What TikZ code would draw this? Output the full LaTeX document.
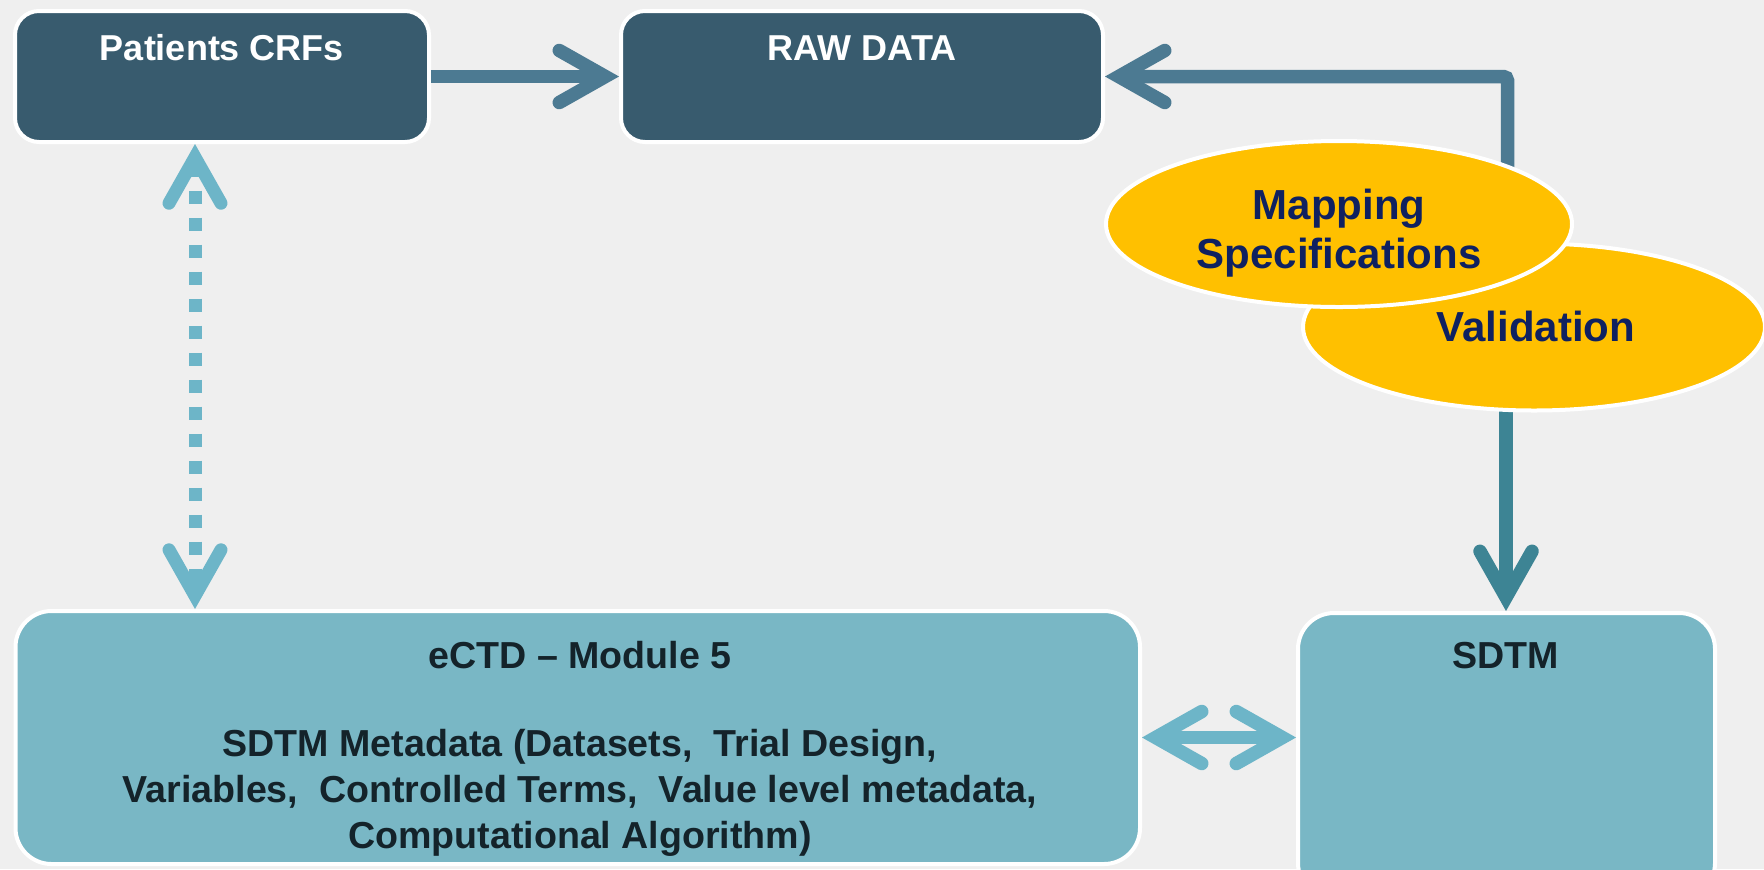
\documentclass[tikz,border=0pt]{standalone}
\usepackage{fontspec}
\setmainfont{Liberation Sans}
\usetikzlibrary{arrows.meta,shapes.geometric}

\definecolor{bgcol}{HTML}{EFEFEF}
\definecolor{darkbox}{HTML}{385B6E}
\definecolor{lightbox}{HTML}{79B7C5}
\definecolor{steel}{HTML}{4C7A92}
\definecolor{tealline}{HTML}{3D8494}
\definecolor{skyline}{HTML}{6DB5C8}
\definecolor{gold}{HTML}{FFC000}
\definecolor{navytext}{HTML}{0F2160}
\definecolor{darktext}{HTML}{14232A}

\begin{document}
\begin{tikzpicture}[x=0.5pt,y=-0.5pt,
  topbox/.style={draw=white, line width=2pt, fill=darkbox, rounded corners=12pt,
    minimum width=207pt, minimum height=65.5pt, inner sep=0pt},
  botbox/.style={draw=white, line width=2pt, fill=lightbox, rounded corners=18pt,
    inner sep=0pt},
  toptext/.style={text=white, font=\fontsize{18}{21.6}\selectfont\bfseries, inner sep=0pt},
  bottext/.style={text=darktext, font=\fontsize{18.8}{23}\selectfont\bfseries,
    align=center, inner sep=0pt},
  oval/.style={ellipse, draw=white, line width=2pt, fill=gold, inner sep=0pt},
  ovaltext/.style={text=navytext, align=center, inner sep=0pt,
    font=\fontsize{21}{24.5}\selectfont\bfseries},
  barb/.tip={Straight Barb[length=23pt, width=26pt, line width=0pt 1,
    line cap=round, line join=miter]},
  steelarrow/.style={draw=steel, line width=6.75pt, -barb},
  tealarrow/.style={draw=tealline, line width=6.75pt, -barb},
  twoway/.style={draw=skyline, line width=6.75pt, barb-barb},
  dotarrow/.style={draw=skyline, line width=6.5pt, dash pattern=on 6.5pt off 7pt,
    barb-barb}
]
\useasboundingbox[fill=bgcol] (0,0) rectangle (1764,869);
\clip (0,0) rectangle (1764,869);

% boxes
\node[topbox] (crf) at (222,76.5) {};
\node[toptext, anchor=base] (crft) at (222,60) {Patients CRFs};
\node[topbox, minimum width=241pt] (raw) at (862,76.5) {};
\node[toptext, anchor=base] (rawt) at (862,60) {RAW DATA};

\node[botbox, minimum width=562.25pt, minimum height=126.5pt] (ectd) at (577.75,737.5) {};
\node[bottext, anchor=north] (ectdt) at (580,641)
  {eCTD – Module 5\\[21pt]SDTM Metadata (Datasets,\ \ Trial Design,\\
   Variables,\ \ Controlled Terms,\ \ Value level metadata,\\
   Computational Algorithm)};
\node[botbox, minimum width=208.5pt, minimum height=143pt] (sdtm) at (1506.5,756) {};
\node[bottext, anchor=base] (sdtmt) at (1506,668) {SDTM};

% connectors
\coordinate (dcol) at (195,0);
\coordinate (ebase) at (1507.5,190);
\coordinate (vbase) at (1506,380);

\draw[steelarrow] (crf.east) -- (raw.west);
\draw[steelarrow, rounded corners=2pt] (ebase) |- (raw.east);
\draw[tealarrow] (vbase) -- (vbase |- sdtm.north);
\draw[dotarrow] (crf.south -| dcol) -- (ectd.north -| dcol);
\draw[twoway] (ectd.east) -- (ectd.east -| sdtm.west);

% process ovals
\node[oval, minimum width=231pt, minimum height=83.5pt] (valid) at (1534,327) {};
\node[ovaltext, anchor=base] (validt) at (1536,341) {Validation};
\node[oval, minimum width=233pt, minimum height=83pt] (mapspec) at (1339,224) {};
\node[ovaltext] (mapspect) at (1339,233) {Mapping\\Specifications};
\end{tikzpicture}
\end{document}
